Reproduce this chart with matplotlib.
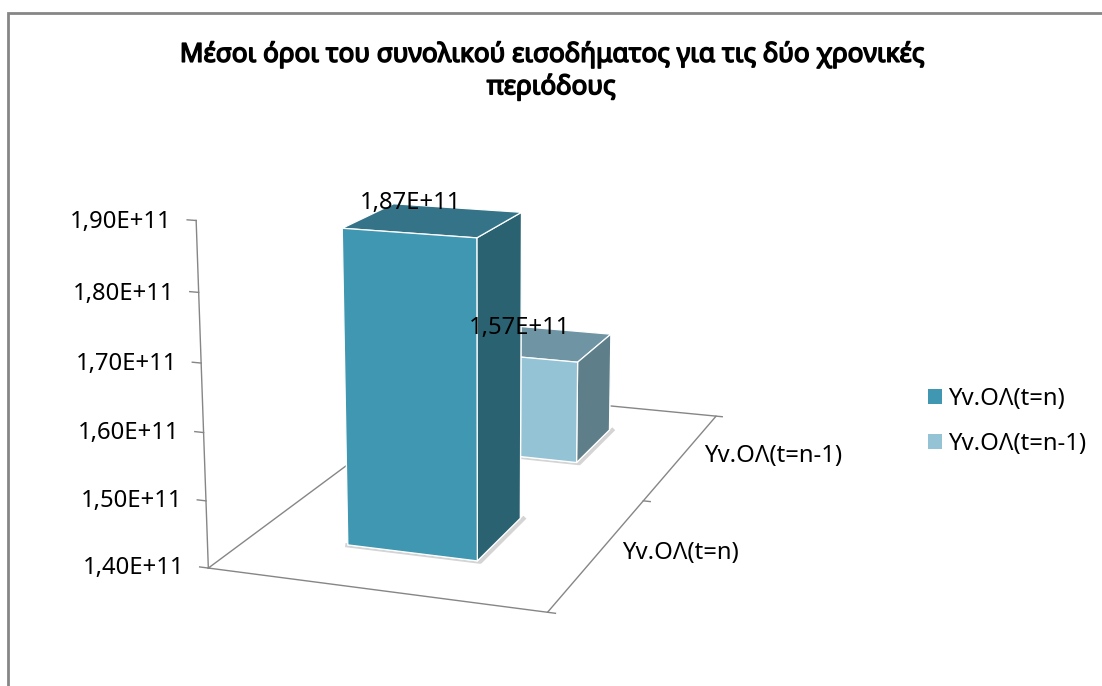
import matplotlib
matplotlib.use("Agg")
import matplotlib.pyplot as plt
import matplotlib.patheffects as pe
from matplotlib.patches import Patch, Rectangle

W, H = 1102, 686

title = "Μέσοι όροι του συνολικού εισοδήματος για τις δύο χρονικές\nπεριόδους"
categories = ["Yv.ΟΛ(t=n)", "Yv.ΟΛ(t=n-1)"]
values = [1.87e11, 1.57e11]
value_labels = ["1,87E+11", "1,57E+11"]
z_ticks = [1.4e11, 1.5e11, 1.6e11, 1.7e11, 1.8e11, 1.9e11]
z_tick_labels = ["1,40E+11", "1,50E+11", "1,60E+11", "1,70E+11", "1,80E+11", "1,90E+11"]

bar_colors = ["#4097B1", "#93C3D5"]
top_colors = ["#357488", "#6F95A5"]
side_colors = ["#2A6272", "#5E7E8A"]
line_color = "#868686"

plt.rcParams['font.family'] = ['Noto Sans', 'DejaVu Sans']

fig = plt.figure(figsize=(W/100, H/100), dpi=100)

# frame of the chart, its bottom and right are cut off by the image
fig.add_artist(Rectangle((7.5/W, -0.1), 1.2, 0.1 + (H-13)/H, transform=fig.transFigure,
                         fill=False, edgecolor=line_color, linewidth=2))

# camera fitted to the reference
ax = fig.add_axes([104.6/W, -30.3/H, 750.3/W, 750.3/H], projection='3d')
ax.computed_zorder = False
ax.view_init(elev=14.278, azim=-70.723)
ax.set_proj_type('persp', focal_length=0.519)
ax.set_box_aspect((1.006, 1.943, 1))
ax.set_xlim(0, 1)
ax.set_ylim(0, 2)
ax.set_zlim(z_ticks[0], z_ticks[-1])
ax.set_axis_off()

zmin, zmax = z_ticks[0], z_ticks[-1]

# floor and value axis
ax.plot([0, 1, 1, 0, 0], [0, 0, 2, 2, 0], [zmin]*5, color=line_color, lw=1, zorder=1)
ax.plot([0, 0], [0, 0], [zmin, zmax], color=line_color, lw=1, zorder=1)
for t, lab in zip(z_ticks, z_tick_labels):
    ax.plot([-0.027, 0], [0, 0], [t, t], color=line_color, lw=1, zorder=1)
    ax.text(-0.074, 0, t - 0.05e10, lab, ha='right', va='center', fontsize=17.2, color='black', zorder=6)
for yt in [0, 1, 2]:
    ax.plot([1, 1.022], [yt, yt], [zmin, zmin], color=line_color, lw=1, zorder=1)

ax.text(1.07, 0.5, zmin + 0.03e10, categories[0], ha='left', va='center', fontsize=17.2, zorder=6)
ax.text(1.075, 1.5, zmin + 0.03e10, categories[1], ha='left', va='center', fontsize=17.2, zorder=6)

# bars, back one first
bar_x, bar_dx = 0.296, 0.398
bar_y = [0.314, 1.31]
bar_dy = 0.398
for i in [1, 0]:
    # faces: bottom, top, front, back, left, right
    faces = [bar_colors[i], top_colors[i], bar_colors[i], bar_colors[i], bar_colors[i], side_colors[i]]
    ax.plot([bar_x, bar_x + bar_dx + 0.01, bar_x + bar_dx + 0.01],
            [bar_y[i] - 0.004, bar_y[i] - 0.004, bar_y[i] + bar_dy],
            [zmin]*3, color='#d4d4d4', lw=3, zorder=2 + 2*(1 - i))
    ax.bar3d(bar_x, bar_y[i], zmin, bar_dx, bar_dy, values[i] - zmin, color=faces, shade=False,
             edgecolor='white', linewidth=0.9, zorder=3 + 2*(1 - i))

ax.text(bar_x + bar_dx/2 - 0.07, bar_y[0] + bar_dy/2, values[0] + 0.023e11, value_labels[0],
        ha='center', va='center', fontsize=17.2, zorder=7)
ax.text(bar_x + bar_dx/2 - 0.064, bar_y[1] + bar_dy/2, values[1] + 0.023e11, value_labels[1],
        ha='center', va='center', fontsize=17.2, zorder=7)

# no bold face for this family here, so the title gets a thin stroke
fig.text(551/W, 1 - 71/H, title, ha='center', va='center', fontsize=18.8,
         linespacing=1.32, path_effects=[pe.withStroke(linewidth=1.1, foreground='black')])

handles = [Patch(facecolor=c, edgecolor='none') for c in bar_colors]
fig.legend(handles, categories, loc='upper left', bbox_to_anchor=(928/W, 1 - 387/H),
           frameon=False, fontsize=17.2, handlelength=0.58, handleheight=0.58,
           handletextpad=0.25, labelspacing=0.87, borderpad=0, borderaxespad=0)

fig.savefig('out.png', dpi=100, facecolor='white')
